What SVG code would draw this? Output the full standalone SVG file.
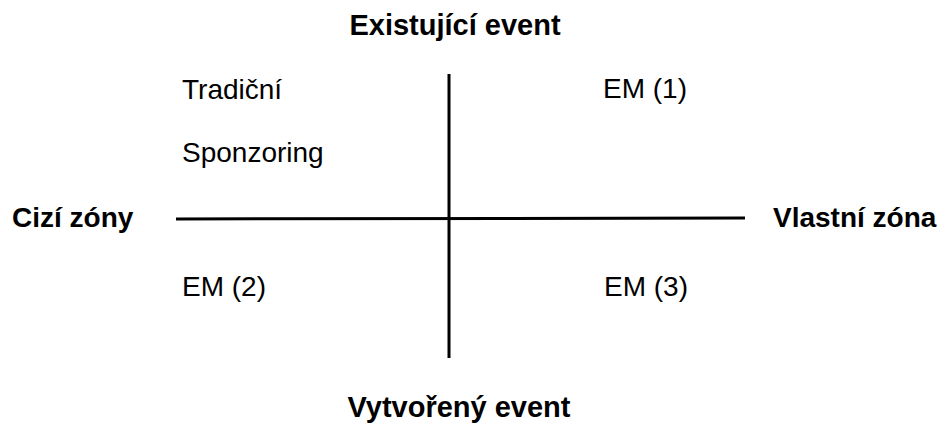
<svg xmlns="http://www.w3.org/2000/svg" width="944" height="424" viewBox="0 0 944 424">
<style>
.t{font-family:"Liberation Sans",Arial,sans-serif;font-size:28px;fill:#000}
.b{font-weight:bold}
.h{font-size:29px}
.ax{stroke:#000;stroke-width:3;fill:none}
</style>
<rect width="944" height="424" fill="#fff"/>
<g id="connectors">
<line class="ax" x1="449" y1="74" x2="449" y2="358"/>
<line class="ax" x1="176" y1="219" x2="745" y2="218"/>
</g>
<g id="top"><text class="t b h" x="455" y="35" text-anchor="middle">Existující event</text></g>
<g id="bottom"><text class="t b h" x="459" y="417" text-anchor="middle">Vytvořený event</text></g>
<g id="left"><text class="t b" x="12" y="227">Cizí zóny</text></g>
<g id="right"><text class="t b" x="773" y="227">Vlastní zóna</text></g>
<g id="q2"><text class="t" x="182" y="99">Tradiční</text><text class="t" x="182" y="162">Sponzoring</text></g>
<g id="q1"><text class="t" x="603" y="98">EM (1)</text></g>
<g id="q3"><text class="t" x="182" y="296">EM (2)</text></g>
<g id="q4"><text class="t" x="604" y="296">EM (3)</text></g>
</svg>
